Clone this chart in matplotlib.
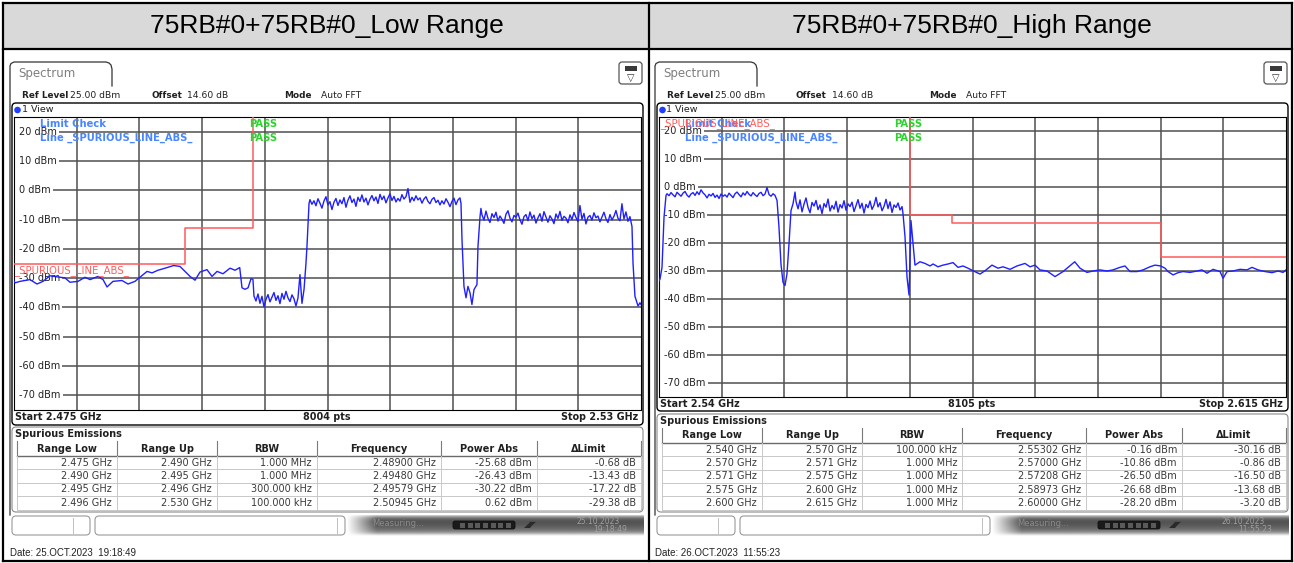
"""
Two spectrum analyser screenshots (spurious emissions, low / high range)
rebuilt side by side inside a two-column report table.
"""

import matplotlib.pyplot as plt
import numpy as np
from matplotlib.patches import Circle, FancyBboxPatch, Rectangle

plt.rcParams["font.family"] = ["DejaVu Sans"]

W, H = 1294, 563
BLUE = "#2020ff"
RED = "#ff5a5a"
GRID = "#505050"
LEGEND_BLUE = "#4a86ff"
PASS_GREEN = "#2fd12f"
LEVELS = [20, 10, 0, -10, -20, -30, -40, -50, -60, -70]
HEADERS = ["Range Low", "Range Up", "RBW", "Frequency", "Power Abs", "\u0394Limit"]

# ---------------------------------------------------------------- low range
LOW_TITLE = "75RB#0+75RB#0_Low Range"
LOW_SPAN = (2.475, 2.53)
LOW_FOOT = ("Start 2.475 GHz", "8004 pts", "Stop 2.53 GHz")
LOW_DATE = "Date: 25.OCT.2023  19:18:49"
LOW_STAMP = ("25.10.2023", "19:18:49")
LOW_LIMIT_FREQ = [2.475, 2.490, 2.490, 2.496, 2.496]
LOW_LIMIT_DBM = [-25, -25, -13, -13, 30]
LOW_ROWS = [
    ["2.475 GHz", "2.490 GHz", "1.000 MHz", "2.48900 GHz", "-25.68 dBm", "-0.68 dB"],
    ["2.490 GHz", "2.495 GHz", "1.000 MHz", "2.49480 GHz", "-26.43 dBm", "-13.43 dB"],
    ["2.495 GHz", "2.496 GHz", "300.000 kHz", "2.49579 GHz", "-30.22 dBm", "-17.22 dB"],
    ["2.496 GHz", "2.530 GHz", "100.000 kHz", "2.50945 GHz", "0.62 dBm", "-29.38 dB"],
]
LOW_EDGE_FREQ = [
    2.47500, 2.47509, 2.47553, 2.47640, 2.47702, 2.47754, 2.47816, 2.47886, 2.47947, 2.47991,
    2.48061, 2.48123, 2.48167, 2.48237, 2.48281, 2.48316, 2.48368, 2.48447, 2.48500, 2.48561,
    2.48605, 2.48667, 2.48711, 2.48763, 2.48825, 2.48900, 2.48956, 2.49000, 2.49044, 2.49088,
    2.49132, 2.49193, 2.49237, 2.49281, 2.49333, 2.49395, 2.49439, 2.49480, 2.49500, 2.49526,
    2.49553, 2.49579, 2.49596,
    2.50044, 2.50061, 2.50070, 2.50088,
    2.51421, 2.51430, 2.51447, 2.51465, 2.51482, 2.51500, 2.51517, 2.51535, 2.51561, 2.51570,
    2.51588, 2.51596,
    2.52921, 2.52930, 2.52947, 2.52974, 2.52991, 2.53000,
]
LOW_EDGE_DBM = [
    -31.0, -31.6, -31.1, -30.5, -32.0, -31.1, -29.2, -29.6, -29.9, -31.4,
    -31.1, -29.7, -30.5, -29.4, -30.5, -33.0, -31.1, -30.8, -32.0, -31.1,
    -29.7, -27.7, -28.2, -27.3, -26.6, -25.7, -26.0, -27.7, -29.4, -30.7,
    -27.9, -27.1, -29.4, -27.7, -28.5, -26.6, -27.3, -26.4, -33.3, -33.8,
    -33.3, -30.2, -30.4,
    -33.9, -25.0, -19.1, -4.5,
    -4.5, -17.0, -32.8, -36.7, -32.8, -35.0, -39.0, -33.9, -32.2, -19.2,
    -9.0, -6.2,
    -12.4, -24.9, -36.2, -39.5, -38.4, -39.0,
]
# noisy stretches, read at even steps between the two given frequencies
LOW_BAND1_SPAN = (2.49605, 2.50026)
LOW_BAND1_DBM = [
    -36.1, -37.8, -35.4, -38.6, -36.2, -39.8, -37.3, -35.6, -38.1, -36.5,
    -34.9, -37.6, -36.0, -38.7, -35.2, -37.2, -34.5, -36.7, -38.0, -35.7,
    -37.0, -39.5, -36.8, -28.8, -38.6,
]
LOW_BAND2_SPAN = (2.50096, 2.51412)
LOW_BAND2_DBM = [
    -3.2, -4.8, -3.6, -5.3, -2.9, -4.4, -6.1, -3.7, -2.2, -5.0,
    -3.9, -6.6, -4.1, -2.8, -5.2, -3.3, -4.6, -2.5, -5.8, -3.4,
    -1.9, -4.2, -3.0, -5.5, -2.4, -3.8, -1.6, -4.0, -2.7, -5.0,
    -3.1, -1.8, -3.6, -2.3, -4.5, -1.4, -3.2, -2.0, -4.3, -2.6,
    -1.2, -3.5, -2.1, -4.0, -2.8, -3.7, -1.5, -3.0, -2.2, 0.6,
    -4.1, -2.4, -3.6, -1.9, -3.3, -2.6, -4.4, -3.0, -2.2, -3.8,
    -4.6, -3.1, -2.5, -4.2, -3.4, -5.0, -3.6, -4.7, -2.9, -4.1,
    -5.6, -3.8, -2.7, -4.9, -3.3, -2.6,
]
LOW_BAND3_SPAN = (2.51605, 2.52903)
LOW_BAND3_DBM = [
    -8.4, -10.2, -7.1, -9.6, -11.0, -8.0, -9.3, -7.5, -10.5, -8.8,
    -9.9, -11.3, -8.2, -7.0, -9.5, -10.8, -8.6, -9.2, -7.8, -10.1,
    -11.6, -9.0, -8.3, -10.4, -7.4, -9.7, -8.5, -11.2, -9.4, -8.0,
    -10.6, -7.3, -9.1, -10.9, -8.7, -9.8, -11.4, -8.1, -9.6, -7.2,
    -10.3, -8.9, -9.5, -11.1, -8.4, -10.0, -7.6, -9.3, -10.7, -5.2,
    -9.9, -7.9, -11.5, -9.2, -8.6, -10.2, -7.7, -9.4, -8.8, -10.8,
    -9.1, -7.5, -9.7, -11.0, -8.3, -10.1, -8.9, -6.9, -9.5, -10.4,
    -4.6, -9.8, -7.4, -10.6, -9.0,
]

# --------------------------------------------------------------- high range
HIGH_TITLE = "75RB#0+75RB#0_High Range"
HIGH_SPAN = (2.54, 2.615)
HIGH_FOOT = ("Start 2.54 GHz", "8105 pts", "Stop 2.615 GHz")
HIGH_DATE = "Date: 26.OCT.2023  11:55:23"
HIGH_STAMP = ("26.10.2023", "11:55:23")
HIGH_LIMIT_FREQ = [2.570, 2.570, 2.575, 2.575, 2.600, 2.600, 2.615]
HIGH_LIMIT_DBM = [30, -10, -10, -13, -13, -25, -25]
HIGH_ROWS = [
    ["2.540 GHz", "2.570 GHz", "100.000 kHz", "2.55302 GHz", "-0.16 dBm", "-30.16 dB"],
    ["2.570 GHz", "2.571 GHz", "1.000 MHz", "2.57000 GHz", "-10.86 dBm", "-0.86 dB"],
    ["2.571 GHz", "2.575 GHz", "1.000 MHz", "2.57208 GHz", "-26.50 dBm", "-16.50 dB"],
    ["2.575 GHz", "2.600 GHz", "1.000 MHz", "2.58973 GHz", "-26.68 dBm", "-13.68 dB"],
    ["2.600 GHz", "2.615 GHz", "1.000 MHz", "2.60000 GHz", "-28.20 dBm", "-3.20 dB"],
]
HIGH_EDGE_FREQ = [
    2.54000, 2.54012, 2.54036, 2.54060, 2.54084,
    2.55412, 2.55435, 2.55459, 2.55483, 2.55507, 2.55531, 2.55555, 2.55579, 2.55603, 2.55627,
    2.56919, 2.56943, 2.56967, 2.56991, 2.57014, 2.57038,
    2.57062, 2.57122, 2.57182, 2.57242, 2.57278, 2.57337, 2.57397, 2.57457, 2.57517, 2.57577,
    2.57636, 2.57696, 2.57756, 2.57840, 2.57900, 2.57983, 2.58055, 2.58115, 2.58199, 2.58282,
    2.58378, 2.58438, 2.58498, 2.58557, 2.58641, 2.58737, 2.58833, 2.58973, 2.59036, 2.59120,
    2.59191, 2.59275, 2.59359, 2.59431, 2.59514, 2.59574, 2.59634, 2.59718, 2.59790, 2.59873,
    2.59933, 2.60000, 2.60053, 2.60089, 2.60149, 2.60208, 2.60268, 2.60352, 2.60436, 2.60495,
    2.60555, 2.60627, 2.60711, 2.60747, 2.60795, 2.60866, 2.60950, 2.61034, 2.61093, 2.61165,
    2.61249, 2.61333, 2.61405, 2.61465, 2.61500,
]
HIGH_EDGE_DBM = [
    -33.5, -32.9, -28.7, -10.8, -3.0,
    -4.8, -14.3, -27.5, -34.0, -35.2, -31.0, -20.3, -8.4, -6.0, -1.8,
    -9.6, -17.9, -32.3, -38.6, -12.0, -20.0,
    -27.9, -26.7, -27.3, -28.2, -27.5, -28.5, -27.9, -27.5, -27.0, -28.7,
    -28.2, -29.0, -29.9, -31.1, -29.9, -27.9, -29.0, -28.5, -29.4, -28.2,
    -27.3, -28.5, -27.9, -29.6, -30.0, -32.0, -30.2, -26.7, -29.0, -30.5,
    -30.0, -29.6, -30.0, -29.6, -28.7, -28.2, -30.2, -30.2, -29.6, -28.5,
    -27.9, -28.2, -29.0, -30.2, -31.4, -30.6, -30.2, -30.5, -30.0, -29.6,
    -30.8, -29.4, -30.2, -32.6, -30.2, -30.0, -29.4, -29.6, -28.7, -29.6,
    -30.2, -30.6, -30.0, -30.5, -29.6,
]
HIGH_BAND1_SPAN = (2.54096, 2.55388)
HIGH_BAND1_DBM = [
    -2.4, -3.1, -2.0, -2.8, -3.5, -1.9, -2.6, -3.3, -2.2, -1.6,
    -2.9, -3.6, -2.5, -2.0, -3.0, -1.7, -2.7, -1.0, -2.1, -2.8,
    -3.9, -2.6, -3.2, -2.3, -3.7, -2.9, -4.1, -2.5, -3.3, -2.8,
    -3.6, -2.2, -3.0, -3.8, -2.4, -1.8, -2.7, -3.5, -2.1, -2.9,
    -1.6, -2.6, -3.2, -2.0, -2.8, -3.4, -2.3, -1.9, -3.1, -2.5,
    -0.2, -2.7, -3.3, -2.4, -3.0,
]
HIGH_BAND2_SPAN = (2.55639, 2.56907)
HIGH_BAND2_DBM = [
    -5.2, -7.8, -4.6, -8.9, -6.1, -3.9, -7.3, -9.2, -5.5, -6.8,
    -4.8, -8.1, -6.4, -9.5, -5.9, -7.2, -4.3, -8.6, -6.6, -7.9,
    -5.1, -9.0, -6.3, -7.5, -4.9, -8.3, -6.0, -7.0, -5.4, -8.8,
    -6.7, -4.5, -7.6, -5.8, -9.3, -6.2, -7.4, -5.0, -8.0, -6.5,
    -3.7, -7.1, -5.6, -8.5, -6.9, -4.4, -7.7, -5.3, -9.1, -6.4,
    -7.3, -5.7, -8.2, -7.0,
]


def build_trace(edge_freq, edge_dbm, bands):
    freq = list(edge_freq)
    dbm = list(edge_dbm)
    for (f0, f1), values in bands:
        freq += list(np.linspace(f0, f1, len(values)))
        dbm += list(values)
    order = np.argsort(freq)
    return np.array(freq)[order], np.array(dbm)[order]


fig = plt.figure(figsize=(W / 100, H / 100), dpi=100)
bg = fig.add_axes([0, 0, 1, 1])
bg.set_autoscale_on(False)
bg.set_xlim(0, W)
bg.set_ylim(H, 0)
bg.axis("off")


def ptext(x, y, s, **kw):
    """Text placed in pixel coordinates (origin top left), drawn above all axes."""
    kw.setdefault("fontsize", 7)
    kw.setdefault("va", "center")
    kw.setdefault("color", "#202020")
    return fig.text(x / W, 1 - y / H, s, **kw)


def rbox(x0, y0, x1, y1, fc="white", ec="#333333", lw=0.9, r=4, z=1):
    bg.add_patch(FancyBboxPatch((x0, y0), x1 - x0, y1 - y0,
                                boxstyle=f"round,pad=0,rounding_size={r}",
                                fc=fc, ec=ec, lw=lw, zorder=z))


def spectrum_axes(rect, span, freq, dbm, lim_freq, lim_dbm):
    left, top, right, bottom = rect
    ax = fig.add_axes([left / W, 1 - bottom / H, (right - left) / W, (bottom - top) / H])
    ax.set_xlim(*span)
    ax.set_ylim(-75, 25)
    ax.set_xticks([])
    ax.set_yticks([])
    for spine in ax.spines.values():
        spine.set_linewidth(0.8)
    for xv in np.linspace(span[0], span[1], 11)[1:-1]:
        ax.axvline(xv, color=GRID, lw=1.1, zorder=1)
    for lvl in LEVELS:
        # the level label sits on the left end of its grid line
        ax.axhline(lvl, xmin=0.02, color=GRID, lw=1.1, zorder=1)
        ax.text(0.0075, lvl, f"{lvl} dBm", transform=ax.get_yaxis_transform(),
                fontsize=7, va="center", ha="left", color="#222222", zorder=2,
                bbox=dict(boxstyle="square,pad=0.25", fc="white", ec="none"))
    ax.plot(lim_freq, lim_dbm, color=RED, lw=1.1, zorder=3)
    ax.plot(freq, dbm, color=BLUE, lw=1.0, zorder=4)
    return ax


def draw_panel(ox, cfg):
    X = lambda x: x + ox  # noqa: E731
    ptext(X(327), 26, cfg["title"], ha="center", fontsize=19, family="Liberation Sans",
          color="black")

    # tab and frame
    bg.plot([X(10), X(10), X(11), X(14), X(106), X(109), X(111), X(112), X(112)],
            [515, 66, 63.5, 62, 62, 63, 65, 69, 86], color="#333333", lw=0.9)
    ptext(X(18), 74, "Spectrum", fontsize=8.5, color="#7f7f7f")
    rbox(X(619), 62, X(642), 84, ec="#555555", r=3)
    bg.add_patch(Rectangle((X(625), 66), 12, 5, fc="#3a3a3a", ec="none", zorder=2))
    ptext(X(631), 78, "\u25bd", ha="center", fontsize=7, color="#333333")

    ptext(X(22), 95, "Ref Level", weight="bold", fontsize=6.4)
    ptext(X(70), 95, "25.00 dBm", fontsize=6.6)
    ptext(X(151), 95, "Offset", weight="bold", fontsize=6.4)
    ptext(X(187), 95, "14.60 dB", fontsize=6.6)
    ptext(X(284), 95, "Mode", weight="bold", fontsize=6.4)
    ptext(X(321), 95, "Auto FFT", fontsize=6.6)

    # trace window
    rbox(X(12), 103, X(643), cfg["view_bottom"], ec="black", lw=1.0)
    bg.add_patch(Circle((X(17.5), 110), 3.3, fc="#1f3fff", ec="none", zorder=3))
    ptext(X(21.5), 110, "1 View", fontsize=6.8)
    spectrum_axes((X(14), 117, X(641), cfg["plot_bottom"]), cfg["span"],
                  cfg["freq"], cfg["dbm"], cfg["lim_freq"], cfg["lim_dbm"])
    ptext(X(40), 124, "Limit Check", weight="bold", fontsize=7.2, color=LEGEND_BLUE)
    ptext(X(40), 138, "Line _SPURIOUS_LINE_ABS_", weight="bold", fontsize=7.2,
          color=LEGEND_BLUE)
    ptext(X(249), 124, "PASS", weight="bold", fontsize=7.2, color=PASS_GREEN)
    ptext(X(249), 138, "PASS", weight="bold", fontsize=7.2, color=PASS_GREEN)
    lx, ly = cfg["red_label"]
    ptext(X(lx), ly, "_SPURIOUS_LINE_ABS_", fontsize=7.3, color=RED)

    start, pts, stop = cfg["foot"]
    sy = cfg["plot_bottom"] + 7
    ptext(X(15), sy, start, weight="bold", fontsize=6.9)
    ptext(X(327), sy, pts, weight="bold", fontsize=6.9, ha="center")
    ptext(X(638), sy, stop, weight="bold", fontsize=6.9, ha="right")

    # result table
    top = cfg["spur_top"]
    rbox(X(12), top, X(643), 512, ec="#8a8a8a", lw=0.8)
    ptext(X(15), top + 7, "Spurious Emissions", weight="bold", fontsize=7)
    cols = [X(c) for c in (17, 117, 217, 317, 441, 537, 641)]
    h0, h1 = top + 14, top + 29
    bg.plot([cols[0], cols[-1]], [h1, h1], color="#6a6a6a", lw=1.0, zorder=2)
    for c in cols:
        bg.plot([c, c], [h0, h1], color="#7a7a7a", lw=0.8, zorder=2)
    for name, c0, c1 in zip(HEADERS, cols[:-1], cols[1:]):
        ptext((c0 + c1) / 2, (h0 + h1) / 2, name, weight="bold", fontsize=7, ha="center")
    row_h = (509.5 - h1) / len(cfg["rows"])
    for i, row in enumerate(cfg["rows"]):
        y0 = h1 + i * row_h
        bg.plot([cols[0], cols[-1]], [y0 + row_h] * 2, color="#c8c8c8", lw=0.7, zorder=2)
        for value, c1 in zip(row, cols[1:]):
            ptext(c1 - 5, y0 + row_h / 2, value, fontsize=7, ha="right", color="#3a3a3a")
    for c in cols:
        bg.plot([c, c], [h1, 509.5], color="#c8c8c8", lw=0.7, zorder=2)

    # status bar
    rbox(X(12), 516, X(90), 535, ec="#9a9a9a", lw=0.8, r=4)
    bg.plot([X(73), X(73)], [518, 533], color="#c0c0c0", lw=0.7)
    rbox(X(95), 516, X(345), 535, ec="#9a9a9a", lw=0.8, r=4)
    bg.plot([X(337), X(337)], [518, 533], color="#c0c0c0", lw=0.7)
    prof = np.array([0.78, 0.62, 0.50, 0.42, 0.37, 0.34, 0.33, 0.33, 0.34, 0.35,
                     0.37, 0.39, 0.41, 0.44, 0.47, 0.52, 0.60, 0.70, 0.84, 0.95])
    fade = np.clip(np.linspace(0, 10, 120), 0, 1)
    shade = 1 - (1 - prof[:, None]) * fade[None, :]
    bg.imshow(shade, extent=(X(346), X(644), 536, 515), cmap="gray", vmin=0, vmax=1,
              aspect="auto", interpolation="bilinear", zorder=1)
    ptext(X(372), 523, "Measuring...", fontsize=6, color="#8c8c8c")
    rbox(X(453), 521, X(515), 529, fc="#1a1a1a", ec="#111111", lw=0.6, r=2, z=2)
    for sx in np.linspace(X(460), X(506), 7):
        bg.add_patch(Rectangle((sx, 522.5), 5, 5, fc="#5a5a5a", ec="none", zorder=3))
    ptext(X(530), 525, "\u25e2\u25e4", fontsize=6, ha="center", color="#2a2a2a")
    d1, d2 = cfg["stamp"]
    ptext(X(598), 521, d1, fontsize=5.5, ha="center", color="#a0a0a0")
    ptext(X(610), 529, d2, fontsize=5.5, ha="center", color="#a0a0a0")

    ptext(X(10), 553, cfg["date"], fontsize=7, family="Liberation Sans", color="#222222")


# report table around the two screenshots
bg.add_patch(Rectangle((3, 3), W - 6, 45.5, fc="#d9d9d9", ec="none", zorder=0))
for xs, ys in [((3, 1292), (3, 3)), ((3, 1292), (48.5, 48.5)), ((3, 1292), (561, 561)),
               ((3, 3), (3, 561)), ((1292, 1292), (3, 561)), ((649, 649), (3, 561))]:
    bg.plot(xs, ys, color="black", lw=1.6, solid_capstyle="projecting", zorder=5)

low_f, low_d = build_trace(LOW_EDGE_FREQ, LOW_EDGE_DBM,
                           [(LOW_BAND1_SPAN, LOW_BAND1_DBM), (LOW_BAND2_SPAN, LOW_BAND2_DBM),
                            (LOW_BAND3_SPAN, LOW_BAND3_DBM)])
high_f, high_d = build_trace(HIGH_EDGE_FREQ, HIGH_EDGE_DBM,
                             [(HIGH_BAND1_SPAN, HIGH_BAND1_DBM),
                              (HIGH_BAND2_SPAN, HIGH_BAND2_DBM)])

draw_panel(0, dict(title=LOW_TITLE, span=LOW_SPAN, freq=low_f, dbm=low_d,
                   lim_freq=LOW_LIMIT_FREQ, lim_dbm=LOW_LIMIT_DBM, rows=LOW_ROWS,
                   foot=LOW_FOOT, date=LOW_DATE, stamp=LOW_STAMP, plot_bottom=410,
                   view_bottom=425, spur_top=427, red_label=(14, 271)))
draw_panel(645, dict(title=HIGH_TITLE, span=HIGH_SPAN, freq=high_f, dbm=high_d,
                     lim_freq=HIGH_LIMIT_FREQ, lim_dbm=HIGH_LIMIT_DBM, rows=HIGH_ROWS,
                     foot=HIGH_FOOT, date=HIGH_DATE, stamp=HIGH_STAMP, plot_bottom=397,
                     view_bottom=411, spur_top=414, red_label=(15, 124)))

fig.savefig("out.png", dpi=100)
